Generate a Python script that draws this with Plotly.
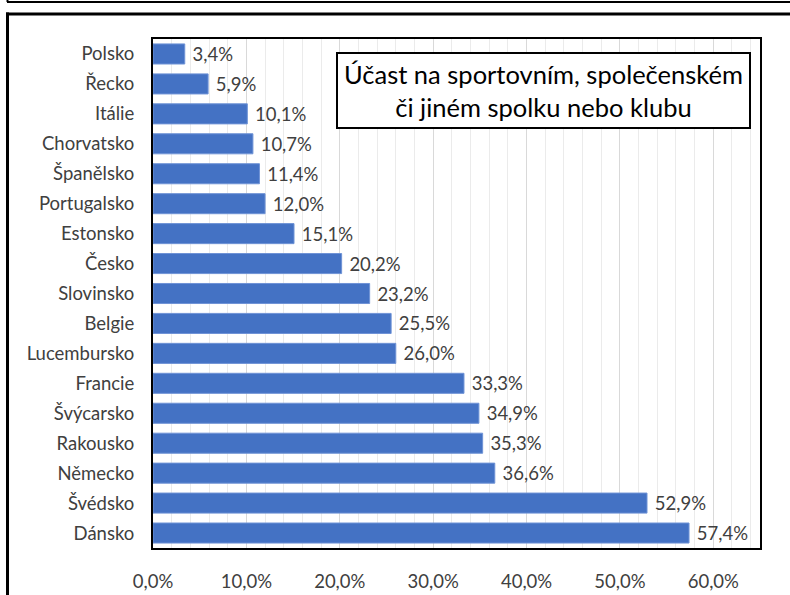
import plotly.graph_objects as go

categories = ["Polsko", "Řecko", "Itálie", "Chorvatsko", "Španělsko", "Portugalsko",
              "Estonsko", "Česko", "Slovinsko", "Belgie", "Lucembursko", "Francie",
              "Švýcarsko", "Rakousko", "Německo", "Švédsko", "Dánsko"]
values = [0.034, 0.059, 0.101, 0.107, 0.114, 0.120, 0.151, 0.202, 0.232, 0.255,
          0.260, 0.333, 0.349, 0.353, 0.366, 0.529, 0.574]
title_lines = ["Účast na sportovním, společenském", "či jiném spolku nebo klubu"]

W, H = 790, 595
L, R, T, B = 153, 760, 39, 548
FONT = "Lato"
GRAY = "#404040"
FS = 18.5

def px(x):
    return (x - L) / (R - L)

def py(y):
    return (B - y) / (B - T)

fig = go.Figure(go.Bar(
    x=values, y=categories, orientation="h",
    marker=dict(color="#4472C4", line=dict(color="#6f93d6", width=1)),
    texttemplate="\u00a0%{x:.1%}", textposition="outside",
    textfont=dict(family=FONT, size=FS, color=GRAY),
    constraintext="none",
    cliponaxis=False,
))

fig.update_layout(
    width=W, height=H, autosize=False,
    margin=dict(l=L, r=W - R, t=T, b=H - B, pad=0, autoexpand=False),
    paper_bgcolor="white", plot_bgcolor="white",
    separators=", ",
    bargap=0.33,
    showlegend=False,
    font=dict(family=FONT, size=FS, color=GRAY),
)

fig.update_xaxes(
    range=[0, 0.65], dtick=0.1, tick0=0, tickformat=".1%",
    showgrid=True, gridcolor="#d9d9d9", gridwidth=1,
    minor=dict(dtick=0.02, tick0=0, showgrid=True, gridcolor="#ebebeb", gridwidth=1),
    showline=True, linecolor="black", linewidth=2, mirror=True,
    ticks="", ticklabelstandoff=16, automargin=False,
    tickfont=dict(family=FONT, size=FS, color=GRAY),
    zeroline=False, fixedrange=True,
)
fig.update_yaxes(
    autorange="reversed", showline=True, linecolor="black", linewidth=2, mirror=True,
    ticks="", ticklabelstandoff=13, showgrid=False, automargin=False,
    tickfont=dict(family=FONT, size=FS, color=GRAY),
)

fig.add_annotation(
    xref="paper", yref="paper",
    x=px((337 + 750) / 2), y=py((53 + 128) / 2),
    xanchor="center", yanchor="middle",
    text="<br>".join(title_lines), showarrow=False,
    font=dict(family=FONT, size=25.5, color="black"),
    bordercolor="black", borderwidth=2, bgcolor="white",
    width=409, height=71, align="center",
)

# outer frame (top and left edges visible) and the line above it
fig.add_shape(type="line", xref="paper", yref="paper",
              x0=px(6), x1=px(792), y0=py(14), y1=py(14),
              line=dict(color="black", width=3), layer="above")
fig.add_shape(type="line", xref="paper", yref="paper",
              x0=px(7.5), x1=px(7.5), y0=py(12.5), y1=py(600),
              line=dict(color="black", width=3), layer="above")
fig.add_shape(type="line", xref="paper", yref="paper",
              x0=px(7), x1=px(792), y0=py(2), y1=py(2),
              line=dict(color="black", width=2), layer="above")
fig.add_shape(type="line", xref="paper", yref="paper",
              x0=px(7.5), x1=px(7.5), y0=py(-2), y1=py(2),
              line=dict(color="black", width=2), layer="above")

fig.write_html(
    "out.html",
    config={"displayModeBar": False},
    post_script="document.body.style.margin='0';document.body.style.overflow='hidden';",
)
